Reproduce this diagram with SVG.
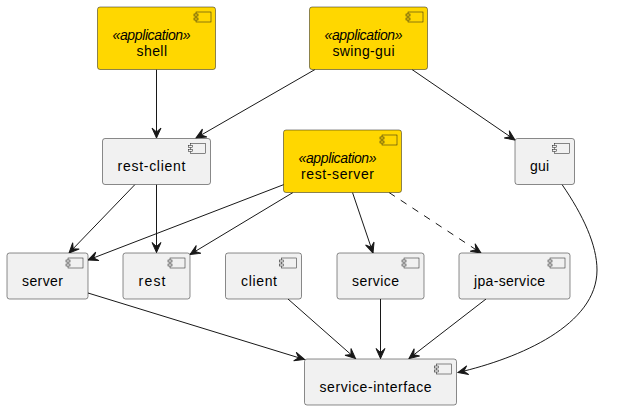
<svg xmlns="http://www.w3.org/2000/svg" width="618" height="411" viewBox="0 0 618 411">
<style>
text{font-family:"Liberation Sans",Arial,sans-serif;font-size:14px;fill:#000}
.st{font-style:italic}
.b{fill:#F1F1F1;stroke:#181818;stroke-width:.5}
.y{fill:#FFD700;stroke:#181818;stroke-width:.5}
.c{fill:none;stroke:#181818;stroke-width:1;marker-end:url(#a)}
.d{stroke-dasharray:7,7}
</style>
<defs>
<marker id="a" markerUnits="userSpaceOnUse" markerWidth="14" markerHeight="12" refX="10" refY="5" orient="auto" viewBox="0 0 14 10" overflow="visible"><path d="M10 5L0 .5L4 5L0 9.500Z" fill="#181818" stroke="#181818"/></marker>
<g id="i"><rect x="0" y="0" width="15" height="10"/><rect x="-2" y="2" width="4" height="2"/><rect x="-2" y="6" width="4" height="2"/></g>
</defs>
<g id="connectors">
<path class="c" d="M156.500 69.500V138"/>
<path class="c" d="M315 69.500L196 138"/>
<path class="c" d="M412 69.500L515 140"/>
<path class="c" d="M135 184.500L69 253"/>
<path class="c" d="M156.500 184.500V252.500"/>
<path class="c" d="M284 184.500L88 260"/>
<path class="c" d="M293 192.500L190 254.500"/>
<path class="c" d="M352.500 192.500L373 253"/>
<path class="c d" d="M389 192.500L481 253"/>
<path class="c" d="M562 184.500C583 215 597 245 597 270C597 325 520 358 458 372.500"/>
<path class="c" d="M88 293L304.500 359.500"/>
<path class="c" d="M288 299L355.500 358.500"/>
<path class="c" d="M380.500 299V358.500"/>
<path class="c" d="M486 299L409 358.500"/>
</g>
<g id="shell"><rect class="y" x="97.500" y="7" width="118" height="62.500" rx="2.500"/><use href="#i" x="196" y="12" class="y"/><text class="st" x="112.500" y="40" textLength="78" lengthAdjust="spacing">«application»</text><text x="136.500" y="56" textLength="30.500">shell</text></g>
<g id="swing-gui"><rect class="y" x="309.500" y="7" width="118" height="62.500" rx="2.500"/><use href="#i" x="408" y="12" class="y"/><text class="st" x="324.500" y="40" textLength="78" lengthAdjust="spacing">«application»</text><text x="332.500" y="56" textLength="62">swing-gui</text></g>
<g id="rest-client"><rect class="b" x="102.500" y="138.500" width="108" height="46" rx="2.500"/><use href="#i" x="190.500" y="143.500" class="b"/><text x="117.500" y="171" textLength="68">rest-client</text></g>
<g id="rest-server"><rect class="y" x="283.500" y="130" width="118" height="62.500" rx="2.500"/><use href="#i" x="382" y="135" class="y"/><text class="st" x="298.500" y="163" textLength="78" lengthAdjust="spacing">«application»</text><text x="301" y="179" textLength="73">rest-server</text></g>
<g id="gui"><rect class="b" x="515" y="138.500" width="59.500" height="46" rx="2.500"/><use href="#i" x="554.500" y="143.500" class="b"/><text x="530" y="171" textLength="19">gui</text></g>
<g id="server"><rect class="b" x="7" y="253" width="81" height="46" rx="2.500"/><use href="#i" x="68" y="258" class="b"/><text x="22" y="286" textLength="41">server</text></g>
<g id="rest"><rect class="b" x="123" y="253" width="67" height="46" rx="2.500"/><use href="#i" x="170" y="258" class="b"/><text x="138.500" y="286" textLength="27">rest</text></g>
<g id="client"><rect class="b" x="225.500" y="253" width="76" height="46" rx="2.500"/><use href="#i" x="281.500" y="258" class="b"/><text x="241" y="286" textLength="36">client</text></g>
<g id="service"><rect class="b" x="337" y="253" width="87" height="46" rx="2.500"/><use href="#i" x="404" y="258" class="b"/><text x="352" y="286" textLength="47">service</text></g>
<g id="jpa-service"><rect class="b" x="459" y="253" width="111" height="46" rx="2.500"/><use href="#i" x="550" y="258" class="b"/><text x="474" y="286" textLength="71">jpa-service</text></g>
<g id="service-interface"><rect class="b" x="304.500" y="359" width="152" height="46" rx="2.500"/><use href="#i" x="436.500" y="364" class="b"/><text x="319.500" y="392" textLength="112">service-interface</text></g>
</svg>
